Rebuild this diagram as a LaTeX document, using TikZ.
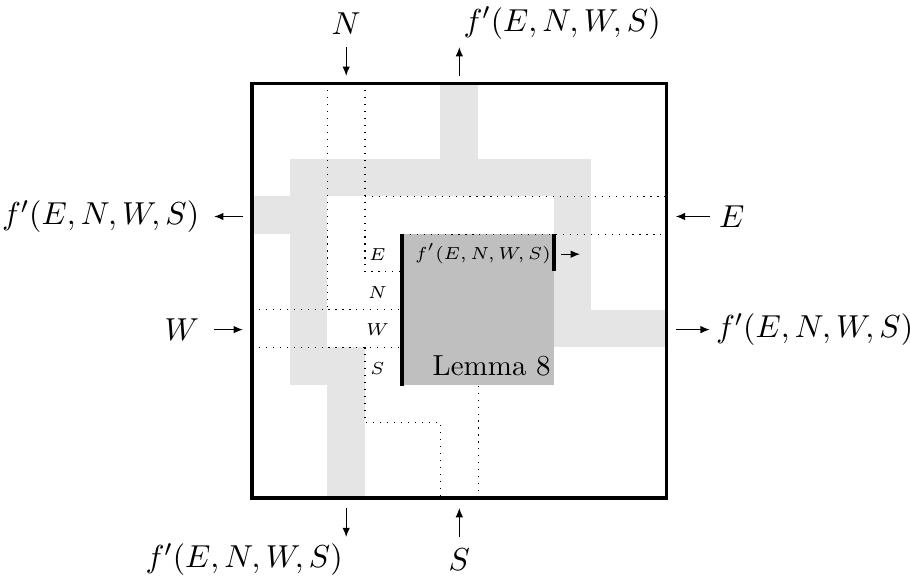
\documentclass[tikz,border=0pt]{standalone}
\usepackage{amsmath,amssymb}
\usepackage{tikz}
\usetikzlibrary{arrows.meta,positioning}

\tikzset{
  wire/.style={fill=gray!20,draw=none},
  lemmabox/.style={fill=gray!50,draw=none,minimum width=1.828cm,minimum height=1.828cm,inner sep=0pt},
  chan/.style={dotted},
  sig/.style={-{Latex[length=3.2pt,width=2.6pt]}},
  lab/.style={inner sep=0pt,font=\fontsize{11}{13}\selectfont},
  small/.style={font=\fontsize{6}{7}\selectfont},
}

\begin{document}
\begin{tikzpicture}[x=0.457cm,y=0.457cm]
  \useasboundingbox (-6.68,-2.23) rectangle (17.45,13.21);
  % wires that carry f'
  \fill[wire] (5,9) rectangle (6,11);
  \fill[wire] (1,8) rectangle (9,9);
  \fill[wire] (8,4) rectangle (9,8);
  \fill[wire] (8,4) rectangle (11,5);
  \fill[wire] (0,7) rectangle (2,8);
  \fill[wire] (1,3) rectangle (2,8);
  \fill[wire] (1,3) rectangle (3,4);
  \fill[wire] (2,0) rectangle (3,4);
  % the lemma block
  \node[lemmabox] (lem) at (6,5) {};
  \node[small,font=\fontsize{5.6}{7}\selectfont,anchor=north east,inner xsep=1pt,inner ysep=3.3pt] (lemf) at (lem.north east) {$f'(E,N,W,S)$};
  \node[anchor=south east,inner xsep=1pt,inner ysep=3pt] (lemname) at (lem.south east) {Lemma 8};
  % channels of E, N, W, S
  \draw[chan] (2,11) -- (2,5);
  \draw[chan] (3,11) -- (3,6) -- (4,6);
  \draw[chan] (3,8) -- (11,8);
  \draw[chan] (4,7) -- (11,7);
  \draw[chan] (0,5) -- (4,5);
  \draw[chan] (0,4) -- (4,4);
  \draw[chan] (3,4) -- (3,2) -- (5,2) -- (5,0);
  \draw[chan] (6,0) -- (6,3);
  \node[small] (le) at (3.33,6.47) {$E$};
  \node[small] (ln) at (3.33,5.45) {$N$};
  \node[small] (lw) at (3.33,4.48) {$W$};
  \node[small] (ls) at (3.33,3.45) {$S$};
  \draw[very thick] (lem.north west) -- (lem.south west);
  \draw[very thick] (lem.north east) -- ([yshift=-0.457cm]lem.north east);
  \coordinate (oA) at (8.2,6.47);
  \coordinate (oB) at (8.7,6.47);
  \draw[sig] (oA) -- (oB);
  % outer box
  \draw[very thick] (0,0) rectangle (11,11);
  % ports
  \coordinate (nOut) at (2.5,11.96); \coordinate (nIn) at (2.5,11.2);
  \coordinate (tOut) at (5.5,11.96); \coordinate (tIn) at (5.5,11.2);
  \coordinate (lOut) at (-1,7.47);   \coordinate (lIn) at (-0.24,7.47);
  \coordinate (wOut) at (-1,4.47);   \coordinate (wIn) at (-0.24,4.47);
  \coordinate (eOut) at (12.14,7.47); \coordinate (eIn) at (11.24,7.47);
  \coordinate (rOut) at (12.14,4.47); \coordinate (rIn) at (11.24,4.47);
  \coordinate (bOut) at (2.5,-1.03); \coordinate (bIn) at (2.5,-0.26);
  \coordinate (sOut) at (5.5,-1.03); \coordinate (sIn) at (5.5,-0.26);
  \draw[sig] (nOut) -- (nIn);
  \draw[sig] (tIn) -- (tOut);
  \draw[sig] (lIn) -- (lOut);
  \draw[sig] (wOut) -- (wIn);
  \draw[sig] (eOut) -- (eIn);
  \draw[sig] (rIn) -- (rOut);
  \draw[sig] (bIn) -- (bOut);
  \draw[sig] (sOut) -- (sIn);
  \node[lab,above=4pt of nOut] (nLab) {$N$};
  \node[lab,above right=2.6pt and 1.3pt of tOut] (tLab) {$f'(E,N,W,S)$};
  \node[lab,left=5pt of lOut] (lLab) {$f'(E,N,W,S)$};
  \node[lab,left=5pt of wOut] (wLab) {$W$};
  \node[lab,right=3pt of eOut] (eLab) {$E$};
  \node[lab,right=2pt of rOut] (rLab) {$f'(E,N,W,S)$};
  \node[lab,below left=2pt and 1pt of bOut] (bLab) {$f'(E,N,W,S)$};
  \node[lab,below=4pt of sOut] (sLab) {$S$};
\end{tikzpicture}
\end{document}
